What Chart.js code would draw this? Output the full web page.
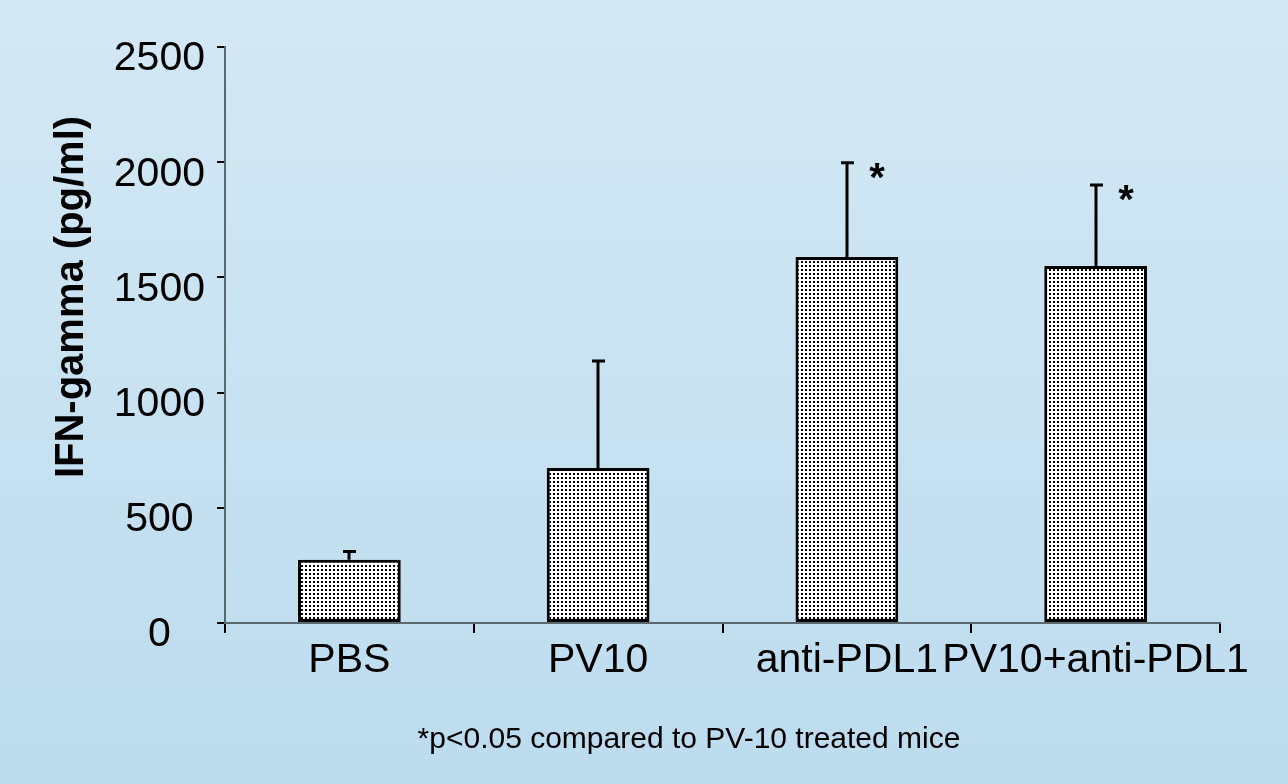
<!DOCTYPE html>
<html><head><meta charset="utf-8">
<script src="https://cdn.jsdelivr.net/npm/chart.js@4/dist/chart.umd.min.js"></script>
<style>
html,body{margin:0;padding:0;width:1288px;height:784px;overflow:hidden;background:linear-gradient(180deg,#d4e8f4 0%,#bcdcee 100%);}
#wrap{position:relative;width:1288px;height:784px;}
canvas{display:block;}
</style></head><body><div id="wrap"><canvas id="c" width="1288" height="784"></canvas></div>
<script>
const categories = ['PBS', 'PV10', 'anti-PDL1', 'PV10+anti-PDL1'];
const meanValues = [275, 673, 1589, 1550];
const errorValues = [35, 464, 409, 351];
const significance = ['', '', '*', '*'];
const yTickValues = [0, 500, 1000, 1500, 2000, 2500];
const yTitle = 'IFN-gamma (pg/ml)';
const footnote = '*p<0.05 compared to PV-10 treated mice';

const FONT = '"Liberation Sans", Arial, sans-serif';
const canvas = document.getElementById('c');
const ctx0 = canvas.getContext('2d');

function makePattern() {
  const t = document.createElement('canvas');
  t.width = 4; t.height = 4;
  const g = t.getContext('2d');
  g.fillStyle = '#ffffff'; g.fillRect(0, 0, 4, 4);
  g.fillStyle = '#000000'; g.fillRect(1, 1, 2, 2);
  return ctx0.createPattern(t, 'repeat');
}

const overlay = {
  id: 'overlay',
  afterDatasetsDraw(chart) {
    const { ctx, scales: { y } } = chart;
    const meta = chart.getDatasetMeta(0);
    ctx.save();
    meta.data.forEach((bar, i) => {
      const cx = Math.round(bar.x);
      const top = y.getPixelForValue(meanValues[i]);
      const et = y.getPixelForValue(meanValues[i] + errorValues[i]);
      ctx.strokeStyle = '#000';
      ctx.lineWidth = 3;
      ctx.beginPath();
      ctx.moveTo(cx, top); ctx.lineTo(cx, et);
      ctx.moveTo(cx - 6, et); ctx.lineTo(cx + 7, et);
      ctx.stroke();
      if (significance[i]) {
        ctx.font = 'bold 40px ' + FONT;
        ctx.fillStyle = '#000';
        ctx.textAlign = 'center';
        ctx.textBaseline = 'alphabetic';
        ctx.fillText(significance[i], cx + 30, et + 28);
      }
    });
    ctx.restore();
  },
  afterDraw(chart) {
    const { ctx } = chart;
    ctx.save();
    ctx.fillStyle = '#000';
    ctx.font = 'bold 40px ' + FONT;
    ctx.textAlign = 'center';
    ctx.textBaseline = 'alphabetic';
    ctx.translate(83, 297);
    ctx.rotate(-Math.PI / 2);
    ctx.fillText(yTitle, 0, 0);
    ctx.restore();
    ctx.save();
    ctx.fillStyle = '#000';
    ctx.font = '30px ' + FONT;
    ctx.textAlign = 'center';
    ctx.textBaseline = 'alphabetic';
    ctx.fillText(footnote, 689, 748);
    ctx.restore();
  }
};

new Chart(canvas, {
  type: 'bar',
  data: {
    labels: categories,
    datasets: [{
      data: meanValues,
      backgroundColor: makePattern(),
      borderColor: '#000',
      borderWidth: 3,
      borderSkipped: false,
      categoryPercentage: 1,
      barPercentage: 0.413
    }]
  },
  options: {
    responsive: false,
    devicePixelRatio: 1,
    animation: false,
    layout: { padding: { top: 47, right: 68, bottom: 0, left: 0 } },
    plugins: { legend: { display: false }, tooltip: { enabled: false } },
    scales: {
      x: {
        type: 'category',
        offset: true,
        grid: { offset: true, drawOnChartArea: false, drawTicks: true, tickLength: 10, color: '#000', lineWidth: 2 },
        border: { display: true, color: '#5a6870', width: 2 },
        ticks: { font: { family: FONT, size: 41 }, color: '#000', padding: 3, autoSkip: false, maxRotation: 0, minRotation: 0 },
        afterFit(s) { s.height = 161; }
      },
      y: {
        min: 0, max: 2500,
        afterBuildTicks(s) { s.ticks = yTickValues.map(v => ({ value: v })); },
        grid: { drawOnChartArea: false, drawTicks: true, tickLength: 8, color: '#000', lineWidth: 2 },
        border: { display: true, color: '#5a6870', width: 2 },
        ticks: {
          font: { family: FONT, size: 41 }, color: '#000', padding: 12, labelOffset: 12,
          crossAlign: 'center',
          callback: (v) => String(v)
        },
        afterFit(s) { s.width = 225; }
      }
    }
  },
  plugins: [overlay]
});
</script></body></html>
